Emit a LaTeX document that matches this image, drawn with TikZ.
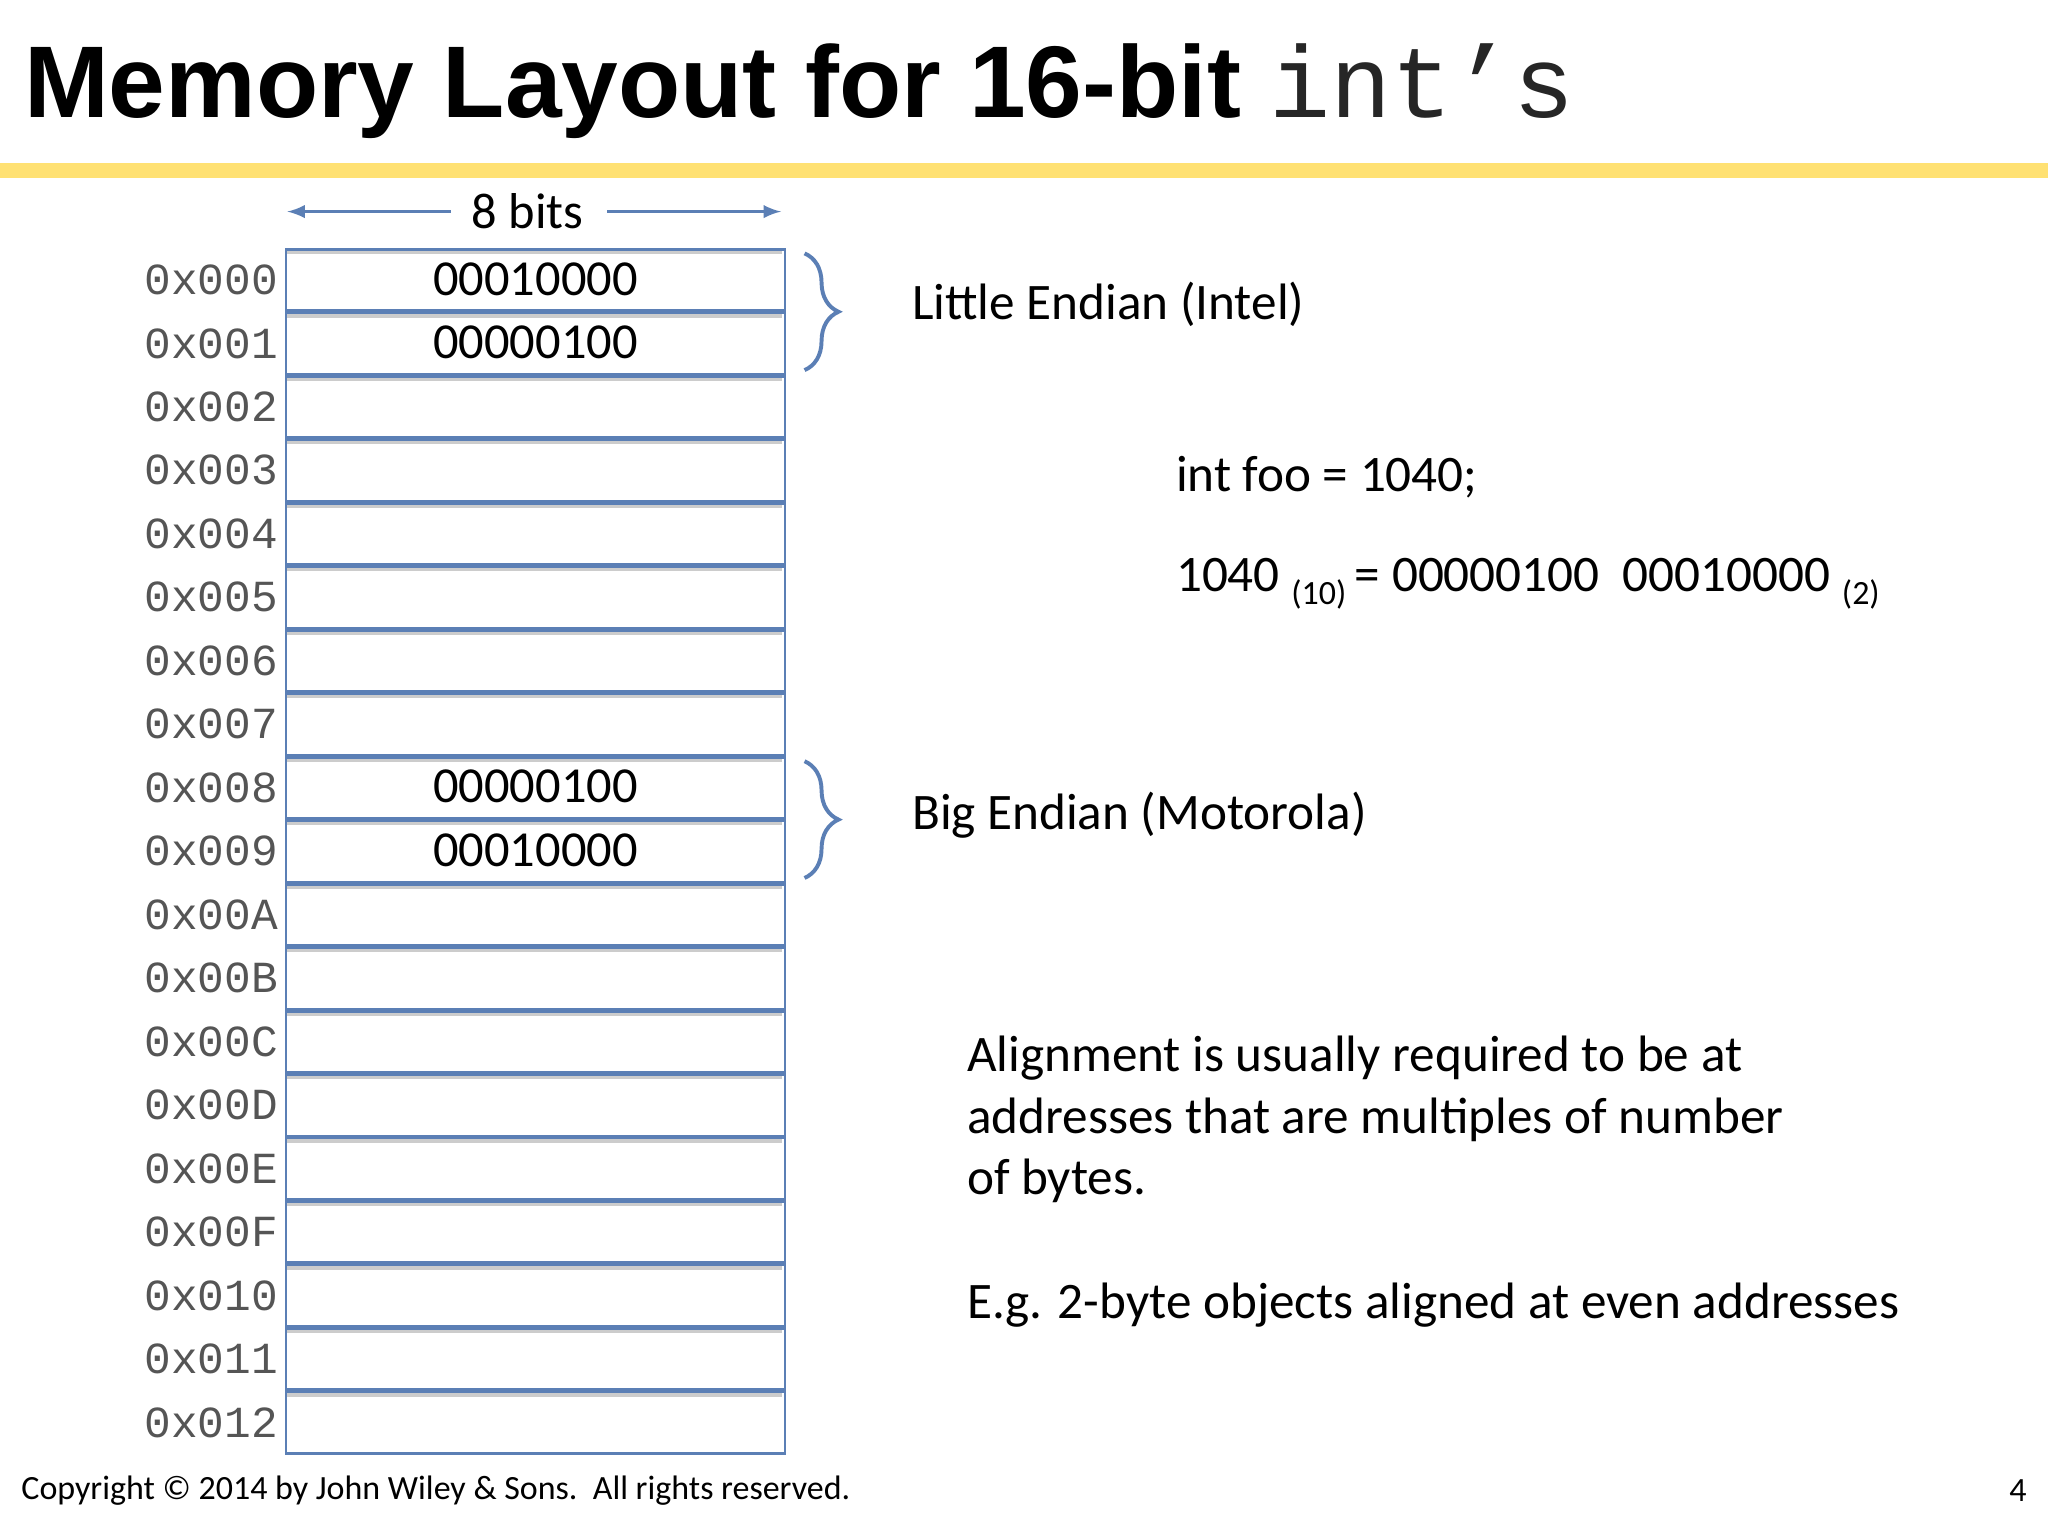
\documentclass[tikz,border=0pt]{standalone}
\usepackage{fontspec}
\setmainfont{Carlito}
\newfontfamily\titlefont{Liberation Sans}
\newfontfamily\monofont{Liberation Mono}
\usetikzlibrary{decorations.pathreplacing,calc}
\definecolor{cellblue}{HTML}{5B7FB5}
\definecolor{baryellow}{HTML}{FFE173}
\definecolor{addrgray}{HTML}{555555}
\tikzset{
  cell/.style={draw=cellblue,line width=1pt,minimum width=191pt,minimum height=23.4pt,inner sep=0pt,anchor=north west,font=\fontsize{19.3}{21}\selectfont},
  addr/.style={anchor=east,font=\monofont\fontsize{17}{19}\selectfont,text=addrgray,inner sep=0pt},
  lbl/.style={anchor=west,font=\fontsize{19.6}{23}\selectfont,inner sep=0pt},
  brc/.style={draw=cellblue,line width=1.5pt,decorate,decoration={brace,amplitude=13pt}},
  arr/.style={draw=cellblue,line width=1.3pt,-latex}
}
\begin{document}
\begin{tikzpicture}[x=0.5pt,y=-0.5pt]
\useasboundingbox (0,0) rectangle (1568,1176);
\fill[white] (0,0) rectangle (1568,1176);
\node[anchor=base west,inner sep=0pt] (title) at (18,90) {\titlefont\fontsize{39}{44}\selectfont\bfseries Memory Layout for 16-bit {\monofont\mdseries\color{black!85}int’s}};
\fill[baryellow] (0,125) rectangle (1568,136);
\node[inner sep=0pt,font=\fontsize{19.3}{21}\selectfont] (bits) at (404,162) {8 bits};
\coordinate (la) at (220,162);
\coordinate (ra) at (598,162);
\draw[arr] (345,162) -- (la);
\draw[arr] (465,162) -- (ra);
\foreach \i/\a/\v in {0/000/00010000,1/001/00000100,2/002/,3/003/,4/004/,5/005/,6/006/,7/007/,8/008/00000100,9/009/00010000,10/00A/,11/00B/,12/00C/,13/00D/,14/00E/,15/00F/,16/010/,17/011/,18/012/}{
  \draw[gray!40,line width=1.5pt] (219,190+48.6*\i+3) -- (599,190+48.6*\i+3);
  \node[cell] (c\i) at (218,190+48.6*\i) {\raisebox{1pt}{\v}};
  \node[addr] (a\i) at (213,190+48.6*\i+24.3) {0x\a};
}
\draw[brc] ($(c0.north east)+(14,4)$) -- ($(c1.south east)+(14,-4)$);
\draw[brc] ($(c8.north east)+(14,4)$) -- ($(c9.south east)+(14,-4)$);
\node[lbl] (le) at (698,233) {Little Endian (Intel)};
\node[lbl] (be) at (698,624) {Big Endian (Motorola)};
\node[lbl] (foo) at (900,365) {int foo = 1040;};
\node[lbl] (eq) at (900,447) {1040 \raisebox{-5pt}{\fontsize{13}{15}\selectfont(10)}\,= 00000100\ \ 00010000 \raisebox{-5pt}{\fontsize{13}{15}\selectfont(2)}};
\node[anchor=north west,font=\fontsize{19.6}{23.5}\selectfont,inner sep=0pt,align=left] (al) at (740,793) {Alignment is usually required to be at\\addresses that are multiples of number\\of bytes.};
\node[lbl] (eg) at (740,999) {E.g. 2-byte objects aligned at even addresses};
\node[anchor=west,inner sep=0pt,font=\fontsize{13}{15}\selectfont] (copy) at (16,1141) {Copyright © 2014 by John Wiley \& Sons.\ \ All rights reserved.};
\node[anchor=east,inner sep=0pt,font=\fontsize{13}{15}\selectfont] (pg) at (1552,1141) {4};
\end{tikzpicture}
\end{document}
